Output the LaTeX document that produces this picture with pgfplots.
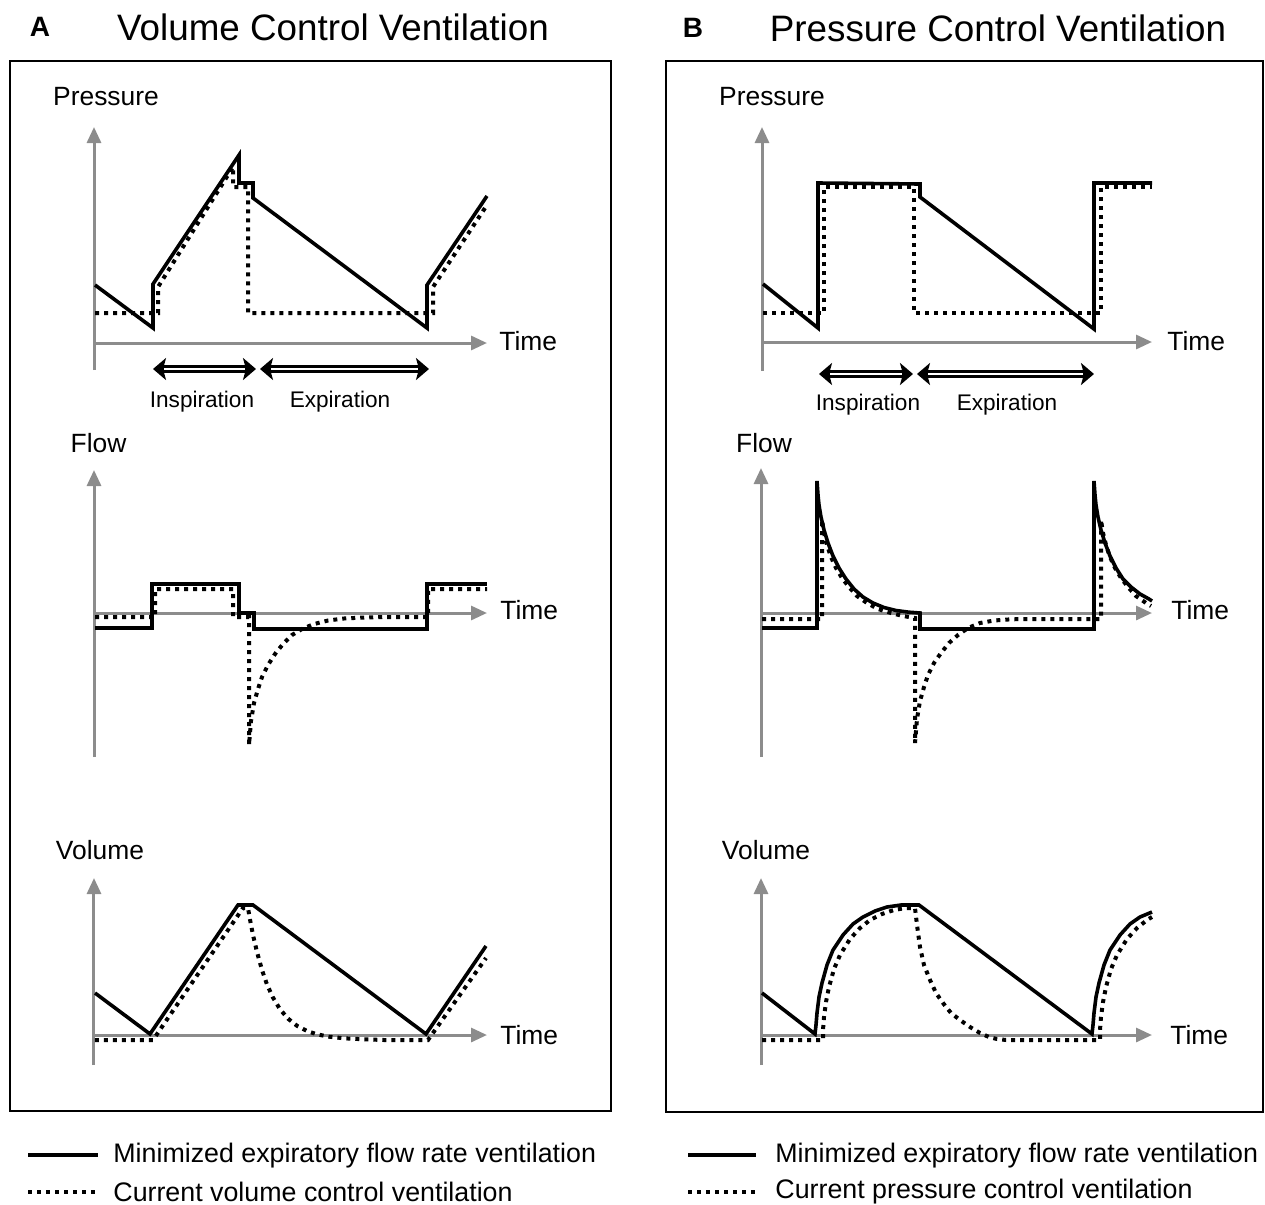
\documentclass[border=0pt]{standalone}
\usepackage{pgfplots}
\pgfplotsset{compat=1.18}
\usepackage{fontspec}
\setmainfont{Liberation Sans}
\usetikzlibrary{arrows.meta}
\definecolor{axgray}{RGB}{140,140,140}
\newcommand{\lbl}{\fontsize{13.2}{15}\selectfont}
\newcommand{\phs}{\fontsize{11.3}{13}\selectfont}
\pgfplotsset{
  vent/.style={
    x=0.5pt, y=0.5pt, anchor=origin, clip=false,
    axis lines*=middle, xtick=\empty, ytick=\empty,
    axis line style={draw=axgray, line width=1.5pt, -{Triangle[length=8pt,width=7pt]}},
    xmin=0,
  },
  solidc/.style={black, line width=1.8pt, no marks, line join=miter, line cap=butt},
  dotc/.style={black, line width=2pt, no marks, dash pattern=on 2pt off 2.5pt, line cap=butt},
}
\tikzset{
  dblout/.style={black, line width=4.4pt, {Stealth[length=6.5pt,width=11pt,inset=1.5pt]}-{Stealth[length=6.5pt,width=11pt,inset=1.5pt]}},
  dblin/.style={white, line width=0.8pt},
  tlab/.style={font=\lbl, anchor=west, inner sep=0pt},
}
\begin{document}
\begin{tikzpicture}
\useasboundingbox (0,0) rectangle (632.5pt,-602.5pt);
% panel frames and titles
\draw[line width=1pt] (5pt,-30.5pt) rectangle (305.5pt,-555.5pt);
\draw[line width=1pt] (333pt,-30.5pt) rectangle (631.5pt,-556pt);
\node[font=\fontsize{14}{16}\selectfont\bfseries] at (20pt,-13.5pt) {A};
\node[font=\fontsize{18.4}{22}\selectfont] at (166.5pt,-13.5pt) {Volume Control Ventilation};
\node[font=\fontsize{14}{16}\selectfont\bfseries] at (346.5pt,-14pt) {B};
\node[font=\fontsize{18.4}{22}\selectfont] at (499pt,-14pt) {Pressure Control Ventilation};

%================ Panel A: Pressure
\begin{axis}[vent, at={(47pt,-171.5pt)}, xmax=393, ymin=-27, ymax=216]
\addplot[dotc] coordinates {(1,30)(64,30)(64,56)(139,176)(139,156)(154,156)(154,30)(339,30)(339,56)(393,138)};
\addplot[solidc] coordinates {(1,58)(59,15)(59,59)(145,188)(145,160)(159,160)(159,145)(333,15)(333,58)(393,147)};
\node[font=\lbl] at (axis cs:12,246) {Pressure};
\node[tlab] at (axis cs:405,2) {Time};
\draw[dblout] (axis cs:59,-26) -- (axis cs:162,-26);
\draw[dblin] (axis cs:70,-26) -- (axis cs:151,-26);
\draw[dblout] (axis cs:166,-26) -- (axis cs:335,-26);
\draw[dblin] (axis cs:177,-26) -- (axis cs:324,-26);
\node[font=\phs] at (axis cs:108,-59) {Inspiration};
\node[font=\phs] at (axis cs:246,-59) {Expiration};
\end{axis}

%================ Panel A: Flow
\begin{axis}[vent, at={(47pt,-306.5pt)}, xmax=393, ymin=-144, ymax=143]
\addplot[dotc] coordinates {(1,-4)(61,-4)(61,24)(139,24)(139,-4)(155,-4)(155,-132)(157,-108)(160,-90)(164,-76)(168,-64)(174,-52)(181,-41)(189,-31)(198,-22)(208,-16)(220,-11)(234,-7.5)(250,-5.5)(270,-4.5)(290,-4)(334,-4)(334,24)(393,24)};
\addplot[solidc] coordinates {(1,-15)(58,-15)(58,29)(145,29)(145,0)(160,0)(160,-16)(333,-16)(333,29)(393,29)};
\node[font=\lbl] at (axis cs:4.5,170) {Flow};
\node[tlab] at (axis cs:406,3) {Time};
\end{axis}

%================ Panel A: Volume
\begin{axis}[vent, at={(47pt,-517.5pt)}, xmax=393, ymin=-30, ymax=157]
\addplot[dotc] coordinates {(1,-5)(59,-5)(149,127)(154,127)(156,115.5)(159,100)(163,83)(168,65)(173,50.5)(179,37.4)(186,25.8)(194,16.4)(203,9.2)(213,4)(223,0.7)(235,-1.7)(250,-3.3)(270,-4.3)(290,-5)(334,-5)(392,77)};
\addplot[solidc] coordinates {(1,42)(56,1)(144,130)(159,130)(332,1)(392,89)};
\node[font=\lbl] at (axis cs:6,185) {Volume};
\node[tlab] at (axis cs:406,0) {Time};
\end{axis}

%================ Panel B: Pressure
\begin{axis}[vent, at={(381pt,-171pt)}, xmax=390, ymin=-29, ymax=215]
\addplot[dotc] coordinates {(1,29)(62,29)(62,155)(152,155)(152,29)(339,29)(339,155)(390,155)};
\addplot[solidc] coordinates {(1,58)(56,14)(56,159)(158,158)(158,145)(332,13)(332,159)(390,159)};
\node[font=\lbl] at (axis cs:10,245) {Pressure};
\node[tlab] at (axis cs:405,1) {Time};
\draw[dblout] (axis cs:57,-32) -- (axis cs:151,-32);
\draw[dblin] (axis cs:68,-32) -- (axis cs:140,-32);
\draw[dblout] (axis cs:155,-32) -- (axis cs:332,-32);
\draw[dblin] (axis cs:166,-32) -- (axis cs:321,-32);
\node[font=\phs] at (axis cs:106,-63) {Inspiration};
\node[font=\phs] at (axis cs:245,-63) {Expiration};
\end{axis}

%================ Panel B: Flow
\begin{axis}[vent, at={(380.5pt,-306.5pt)}, xmax=391, ymin=-144, ymax=145]
\addplot[dotc] coordinates {(1,-6)(61,-6)(61,93)(63,80)(66,68)(70,56)(75,45)(81,35)(88,26)(96,17)(106,10)(117,4)(130,0)(142,-3)(154,-5)(154,-130)(156,-106)(159,-88)(163,-74)(167,-62)(173,-50)(180,-40)(188,-30)(197,-22)(207,-15)(219,-10)(233,-7.5)(250,-6.3)(270,-6)(340,-6)(340,93)(342,80)(345,68)(349,56)(354,45)(360,35)(367,26)(375,17)(385,10)(390,7)};
\addplot[solidc] coordinates {(1,-15)(56,-15)(56,132)(57,118)(58,108)(60,96)(63,83)(67,70)(72,57)(78,45)(85,34)(93,24)(102,16)(112,10)(123,5.5)(135,2.5)(148,0.8)(159,0)(159,-16)(333,-16)(333,132)(334,118)(335,108)(337,96)(340,83)(344,70)(349,57)(355,45)(362,34)(370,26)(379,19)(388,14)(391,12)};
\node[font=\lbl] at (axis cs:3,170) {Flow};
\node[tlab] at (axis cs:410,3) {Time};
\end{axis}

%================ Panel B: Volume
\begin{axis}[vent, at={(380.5pt,-517.5pt)}, xmax=391, ymin=-30, ymax=157]
\addplot[dotc] coordinates {(1,-5)(62,-5)(62,5)(63,18)(65,33)(68,48)(73,66)(79,80)(89,96)(99,107)(109,115)(121,121)(133,125)(145,127)(154,127)(156,110)(159,88)(163,70)(169,55)(175,42)(182,32)(190,22)(199,15)(209,8)(219,2)(228,-2)(236,-4)(245,-5)(339,-5)(339,5)(340,18)(342,33)(345,48)(350,66)(356,80)(366,96)(376,107)(386,115)(391,118)};
\addplot[solidc] coordinates {(1,42)(54,1)(55,10)(56,22)(58,38)(61,52)(66,70)(72,85)(82,100)(92,111)(102,118)(114,124)(126,128)(140,130)(158,130)(331,1)(332,10)(333,22)(335,38)(338,52)(343,70)(349,85)(359,100)(369,111)(379,118)(391,123)};
\node[font=\lbl] at (axis cs:5,185) {Volume};
\node[tlab] at (axis cs:409,0) {Time};
\end{axis}

% legends
\draw[black, line width=1.8pt] (14pt,-577.5pt) -- (49pt,-577.5pt);
\draw[black, line width=2pt, dash pattern=on 2pt off 2.5pt] (14pt,-596pt) -- (49pt,-596pt);
\node[font=\fontsize{13.4}{15}\selectfont, anchor=west, inner sep=0pt] at (56.5pt,-578pt) {Minimized expiratory flow rate ventilation};
\node[font=\fontsize{13.4}{15}\selectfont, anchor=west, inner sep=0pt] at (56.5pt,-596pt) {Current volume control ventilation};
\draw[black, line width=1.8pt] (344pt,-577.5pt) -- (378pt,-577.5pt);
\draw[black, line width=2pt, dash pattern=on 2pt off 2.5pt] (344pt,-596pt) -- (378pt,-596pt);
\node[font=\fontsize{13.4}{15}\selectfont, anchor=west, inner sep=0pt] at (387.5pt,-578pt) {Minimized expiratory flow rate ventilation};
\node[font=\fontsize{13.4}{15}\selectfont, anchor=west, inner sep=0pt] at (387.5pt,-596pt) {Current pressure control ventilation};
\end{tikzpicture}
\end{document}
